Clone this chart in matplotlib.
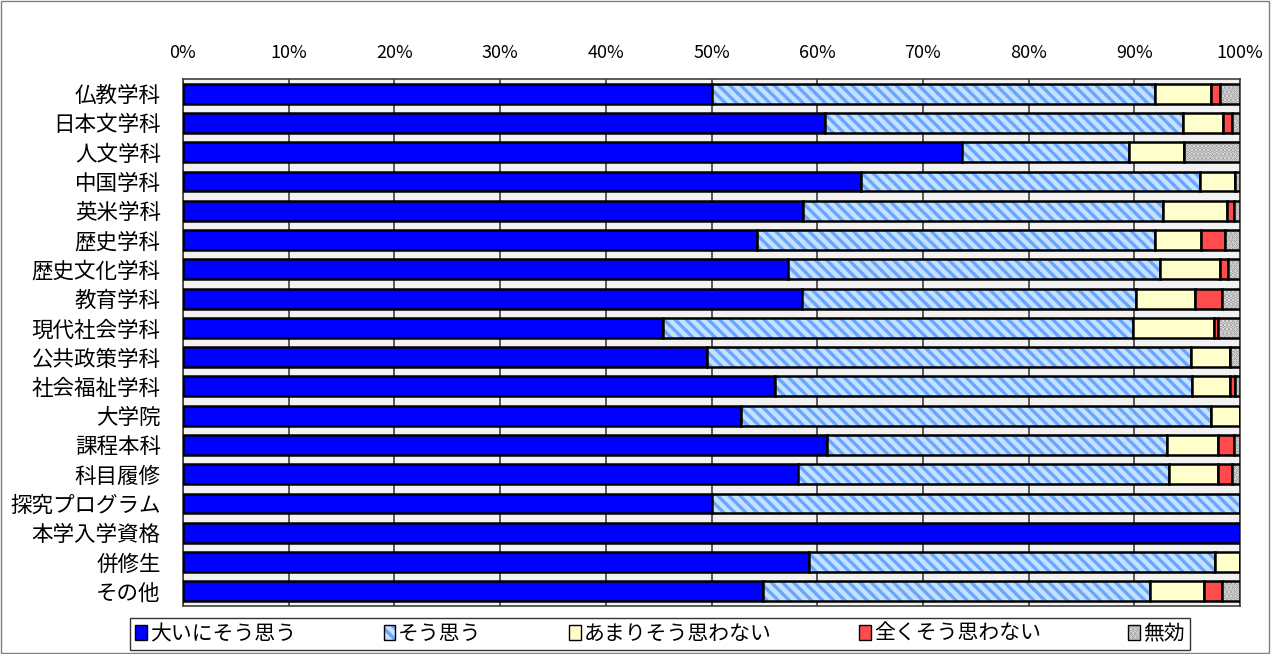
import numpy as np
import matplotlib.pyplot as plt
from matplotlib.colors import to_rgba
from matplotlib.patches import Patch, Rectangle

plt.rcParams['font.family'] = ['Noto Sans CJK JP', 'DejaVu Sans']
plt.rcParams['hatch.linewidth'] = 2.4

# categories (top to bottom)
categories = ['仏教学科', '日本文学科', '人文学科', '中国学科', '英米学科', '歴史学科',
              '歴史文化学科', '教育学科', '現代社会学科', '公共政策学科', '社会福祉学科',
              '大学院', '課程本科', '科目履修', '探究プログラム', '本学入学資格', '併修生', 'その他']

series_names = ['大いにそう思う', 'そう思う', 'あまりそう思わない', '全くそう思わない', '無効']

# percentages
very_much = [50.0, 60.7, 73.7, 64.1, 58.7, 54.3, 57.2, 58.6, 45.4, 49.6, 56.0, 52.8, 60.9, 58.2, 50.0, 100.0, 59.2, 54.9]
agree = [42.0, 33.9, 15.8, 32.1, 34.0, 37.7, 35.2, 31.6, 44.5, 45.8, 39.5, 44.5, 32.2, 35.1, 50.0, 0.0, 38.4, 36.6]
not_much = [5.3, 3.8, 5.2, 3.3, 6.1, 4.3, 5.7, 5.5, 7.6, 3.7, 3.6, 2.7, 4.8, 4.6, 0.0, 0.0, 2.4, 5.1]
not_at_all = [0.8, 0.8, 0.0, 0.0, 0.6, 2.3, 0.8, 2.6, 0.4, 0.0, 0.4, 0.0, 1.5, 1.3, 0.0, 0.0, 0.0, 1.7]
invalid = [1.9, 0.8, 5.3, 0.5, 0.6, 1.4, 1.1, 1.7, 2.1, 0.9, 0.5, 0.0, 0.6, 0.8, 0.0, 0.0, 0.0, 1.7]

series = [very_much, agree, not_much, not_at_all, invalid]
facecolors = ['#0000ff', '#c4e2ff', '#ffffcc', '#ff4b4b', '#e8e8e8']
hatches = [None, '\\\\\\', None, None, '....']
hatchcolors = [None, '#6aa6ff', None, None, '#a0a0a0']

fig = plt.figure(figsize=(12.72, 6.54), dpi=100)
ax = fig.add_axes([183 / 1272, 1 - 606 / 654, (1240 - 183) / 1272, (606 - 79) / 654])
ax.set_facecolor('#f2f2f2')

y = np.arange(len(categories))
left = np.zeros(len(categories))
for vals, fc, h, hc in zip(series, facecolors, hatches, hatchcolors):
    vals = np.array(vals)
    bars = ax.barh(y, vals, left=left, height=0.68, color=fc, edgecolor='black',
                   linewidth=1.8, zorder=3)
    if h:
        for b in bars:
            b.set_hatch(h)
            b._hatch_color = to_rgba(hc)
    left += vals

ax.set_xlim(0, 100)
ax.set_ylim(len(categories) - 0.5, -0.5)
ax.set_xticks(np.arange(0, 101, 10))
ax.set_xticklabels([f'{v}%' for v in range(0, 101, 10)], fontsize=13)
ax.xaxis.tick_top()
ax.tick_params(axis='x', length=0, pad=12)
ax.set_yticks(y)
ax.set_yticklabels(categories, fontsize=15.5)
ax.tick_params(axis='y', length=0, pad=16)
ax.grid(axis='x', color='#404040', linewidth=1.2, zorder=1)
for s in ax.spines.values():
    s.set_color('#404040')
    s.set_linewidth(1.2)

handles = []
for fc, h, hc in zip(facecolors, hatches, hatchcolors):
    p = Patch(facecolor=fc, edgecolor='black', linewidth=1.0, hatch=h)
    if h:
        p._hatch_color = to_rgba(hc)
    handles.append(p)
leg = fig.legend(handles, series_names, loc='center', ncol=5,
                 bbox_to_anchor=(660 / 1272, 1 - 634 / 654), fontsize=15,
                 frameon=True, fancybox=False, edgecolor='black',
                 handlelength=0.55, handleheight=0.7, handletextpad=0.15,
                 columnspacing=4.2, borderpad=0.25, borderaxespad=0)
leg.get_frame().set_linewidth(1.0)

fig.patches.append(Rectangle((0.001, 0.001), 0.997, 0.997, transform=fig.transFigure,
                             fill=False, edgecolor='#808080', linewidth=1.0))

fig.savefig('out.png', dpi=100)
